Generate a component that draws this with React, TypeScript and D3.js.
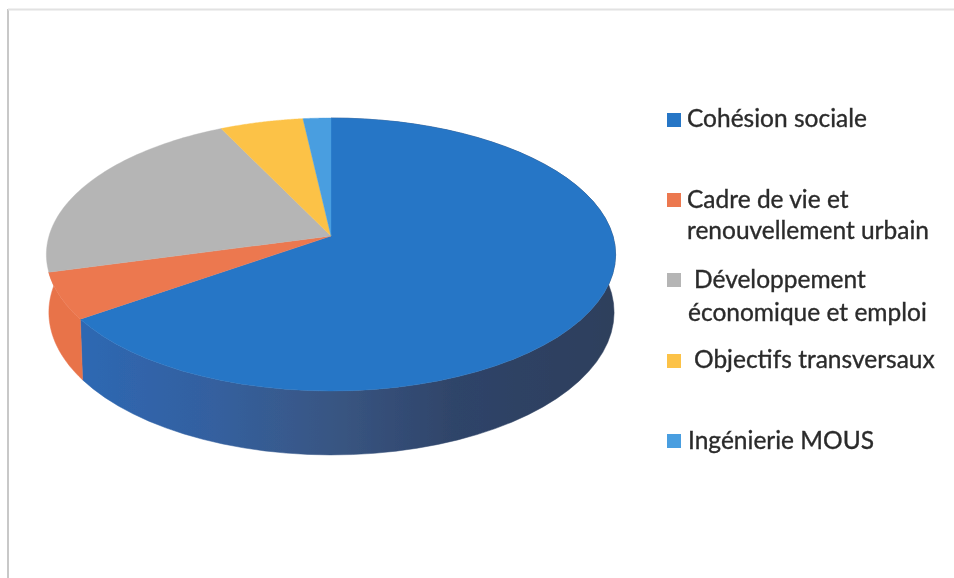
import React from "react";
import * as d3 from "d3";

const categories = ["Cohésion sociale", "Cadre de vie et renouvellement urbain", "Développement économique et emploi", "Objectifs transversaux", "Ingénierie MOUS"];
const values = [65.3, 5.5, 22.0, 5.4, 1.8];
const topColors = ["#2776c6", "#ec7850", "#b5b5b5", "#fcc247", "#4a9ee0"];
const sideColors = ["url(#blueSide)", "#e8734a"];
const legendLines = [["Cohésion sociale"], ["Cadre de vie et", "renouvellement urbain"], ["Développement", "économique et emploi"], ["Objectifs transversaux"], ["Ingénierie MOUS"]];

const W = 954, H = 578;
const k = 0.1355;
const topDisk = { cx: 331, R: 282, S: 134, cy: 236 };
const botDisk = { cx: 331.5, R: 280, S: 140, cy: 293 };

// angle measured clockwise from the back of the pie
const project = (d: { cx: number; R: number; S: number; cy: number }, a: number): [number, number] => {
  const u = Math.sin(a), v = -Math.cos(a), w = 1 - k * v;
  return [d.cx + (d.R * u) / w, d.cy + (d.S * v) / w];
};

const arcs = d3.pie<number>().sort(null)(values);
const line = d3.line();
const steps = (a0: number, a1: number) => d3.range(0, 61).map((i) => a0 + ((a1 - a0) * i) / 60);

const topPath = (a0: number, a1: number) =>
  line([[topDisk.cx, topDisk.cy], ...steps(a0, a1).map((a) => project(topDisk, a))])! + "Z";
// the bottom edge may run past the top edge so that the side reaches the silhouette
const sidePath = (a0: number, a1: number, bottomEnd: number) =>
  line([...steps(a0, a1).map((a) => project(topDisk, a)), ...steps(bottomEnd, a0).map((a) => project(botDisk, a))])! + "Z";

const font = "Lato, 'Open Sans', sans-serif";
const legendRows = [
  { box: 113, lines: [[687, 126.5]] },
  { box: 193, lines: [[687, 207.5], [687, 238.5]] },
  { box: 273, lines: [[694, 287.5], [688, 320.5]] },
  { box: 354, lines: [[694, 367.5]] },
  { box: 434, lines: [[688, 448.5]] },
];
const silhouetteAngle = (278 * Math.PI) / 180;

export default function App() {
  return (
    <svg width={W} height={H} viewBox={`0 0 ${W} ${H}`} style={{ position: "absolute", left: 0, top: 0, background: "#fff" }}>
      <defs>
        <linearGradient id="blueSide" gradientUnits="userSpaceOnUse" x1={80} x2={615} y1={0} y2={0}>
          <stop offset="0" stopColor="#2d68b3" />
          <stop offset="0.25" stopColor="#34609f" />
          <stop offset="0.47" stopColor="#395683" />
          <stop offset="0.7" stopColor="#2f4469" />
          <stop offset="1" stopColor="#2e3f5c" />
        </linearGradient>
        <filter id="soft" x="-5%" y="-5%" width="110%" height="110%">
          <feGaussianBlur stdDeviation="0.6" />
        </filter>
      </defs>
      <g filter="url(#soft)">
        <line x1={8} x2={8} y1={9} y2={H} stroke="#c8c8c8" strokeWidth={2} />
        <line x1={8} x2={W} y1={9.5} y2={9.5} stroke="#e2e2e2" strokeWidth={2} />
        {arcs.slice(0, 2).map((d, i) => (
          <path key={"s" + i} d={sidePath(d.startAngle, d.endAngle, i === 1 ? silhouetteAngle : d.endAngle)} fill={sideColors[i]} stroke={sideColors[i]} strokeWidth={0.5} />
        ))}
        {arcs.map((d, i) => (
          <path key={"t" + i} d={topPath(d.startAngle, d.endAngle)} fill={topColors[i]} stroke={topColors[i]} strokeWidth={0.4} />
        ))}
        {legendRows.map((r, i) => (
          <g key={categories[i]}>
            <rect x={667} y={r.box} width={14} height={14} fill={topColors[i]} />
            {legendLines[i].map((t, j) => (
              <text key={t} x={r.lines[j][0]} y={r.lines[j][1]} fontFamily={font} fontSize={24.5} fill="#2b2b2b" stroke="#2b2b2b" strokeWidth={0.35}>{t}</text>
            ))}
          </g>
        ))}
      </g>
    </svg>
  );
}
